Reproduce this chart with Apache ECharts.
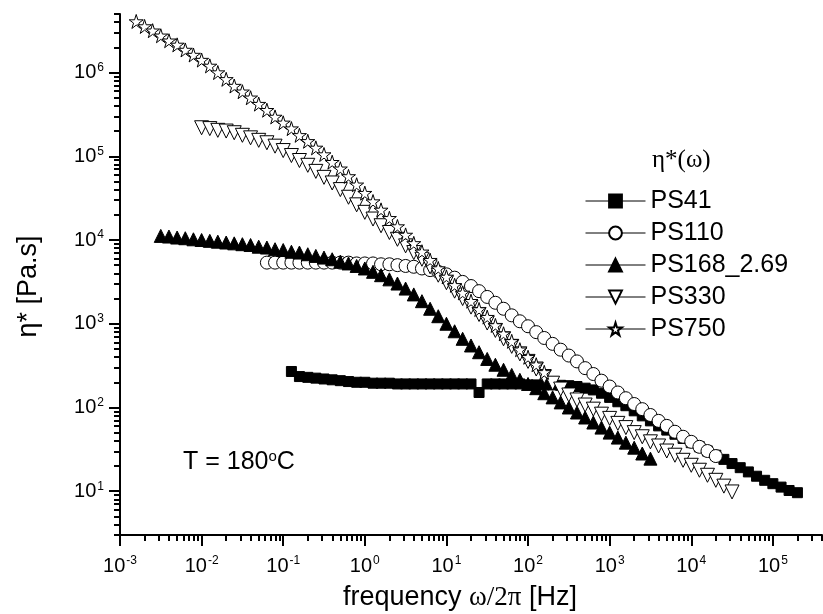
<!DOCTYPE html>
<html><head><meta charset="utf-8">
<script src="https://cdn.jsdelivr.net/npm/echarts@6/dist/echarts.min.js"></script>
<style>html,body{margin:0;padding:0;background:#fff}#c{width:823px;height:614px}</style>
</head><body><div id="c"></div>
<script>
// shared frequency grid [Hz] (10 points per decade)
const freq = [
  0.00158, 0.002, 0.00251, 0.00316, 0.00398, 0.00501, 0.00631, 0.00794,
  0.01, 0.0126, 0.0158, 0.02, 0.0251, 0.0316, 0.0398, 0.0501, 0.0631, 0.0794,
  0.1, 0.126, 0.158, 0.2, 0.251, 0.316, 0.398, 0.501, 0.631, 0.794,
  1, 1.26, 1.58, 2, 2.51, 3.16, 3.98, 5.01, 6.31, 7.94,
  10, 12.6, 15.8, 20, 25.1, 31.6, 39.8, 50.1, 63.1, 79.4,
  100, 126, 158, 200, 251, 316, 398, 501, 631, 794,
  1000, 1260, 1580, 2000, 2510, 3160, 3980, 5010, 6310, 7940,
  10000, 12600, 15800, 20000, 25100, 31600, 39800, 50100, 63100, 79400,
  100000, 126000, 158000, 200000
];
const seriesNames = ['PS41', 'PS110', 'PS168_2.69', 'PS330', 'PS750'];

const ps41Start = 19;
const ps41Eta = [269, 234, 229, 224, 219, 214, 209, 204, 200, 200,
  195, 195, 195, 191, 191, 191, 191, 191, 191, 191,
  191, 191, 191, 151, 191, 191, 191, 191, 191, 186,
  186, 186, 186, 184, 182, 178, 170, 162, 148, 132,
  117, 105, 91.2, 79.4, 69.2, 60.3, 53.7, 47.9, 42.7, 38.0,
  33.9, 30.2, 26.9, 24.0, 21.4, 19.1, 17.0, 15.1, 13.5, 12.3,
  11.2, 10.2, 9.6];

const ps110Start = 16;
const ps110Eta = [5370, 5370, 5370, 5370, 5370, 5370, 5370, 5370, 5370, 5370,
  5370, 5250, 5250, 5250, 5130, 5130, 5010, 4900, 4790, 4570,
  4370, 4170, 3890, 3550, 3160, 2820, 2450, 2090, 1780, 1510,
  1260, 1070, 933, 794, 676, 575, 490, 417, 355, 295,
  251, 209, 178, 151, 129, 110, 95.5, 81.3, 69.2, 60.3,
  51.3, 44.7, 38.9, 33.9, 30.2, 26.3];

const ps168Start = 3;
const ps168Eta = [11200, 11000, 10700, 10500, 10200, 10000, 9770, 9550, 9330, 9120,
  8910, 8710, 8320, 8130, 7760, 7590, 7240, 7080, 6760, 6460,
  6170, 5890, 5500, 5250, 4900, 4570, 4170, 3800, 3390, 3020,
  2630, 2240, 1860, 1510, 1230, 1000, 813, 661, 550, 457,
  380, 324, 282, 245, 214, 191, 170, 148, 132, 115,
  100, 87.1, 75.9, 66.1, 57.5, 50.1, 43.7, 38.0, 33.1, 28.2,
  24.5];

const ps330Start = 8;
const ps330Eta = [219000, 214000, 204000, 200000, 191000, 178000, 166000, 155000, 145000, 132000,
  117000, 102000, 89000, 78000, 66000, 56000, 48000, 40000, 32400, 26300,
  21400, 17800, 14800, 12300, 10200, 8510, 7080, 5890, 4790, 3800,
  3090, 2450, 2000, 1580, 1290, 1020, 832, 661, 537, 437,
  355, 288, 234, 195, 166, 141, 123, 107, 95.5, 83.2,
  74.1, 64.6, 57.5, 50.1, 44.7, 38.9, 34.7, 30.2, 26.9, 23.4,
  20.4, 17.8, 15.5, 13.5, 11.5, 9.8];

const ps750Start = 0;
const ps750Eta = [4070000, 3550000, 3160000, 2750000, 2400000, 2140000, 1860000, 1620000, 1410000, 1200000,
  1000000, 830000, 690000, 590000, 500000, 420000, 355000, 295000, 251000, 214000,
  178000, 151000, 126000, 105000, 85000, 71000, 57500, 45700, 36300, 28800,
  22900, 18200, 14500, 11500, 9120, 7240, 5750, 4570, 3630, 2880,
  2340, 1860, 1480, 1200, 955, 759, 617, 490, 398, 324,
  263];

const xMajorTicks = [1e-3, 1e-2, 1e-1, 1, 1e1, 1e2, 1e3, 1e4, 1e5];
const yMajorTicks = [1e1, 1e2, 1e3, 1e4, 1e5, 1e6];
const xRange = [1e-3, 4e5];
const yRange = [3, 5e6];

function minorTicks(lo, hi) {
  const out = [];
  for (let e = Math.floor(Math.log10(lo)); e <= Math.ceil(Math.log10(hi)); e++) {
    for (let m = 2; m <= 9; m++) {
      const v = +(m * Math.pow(10, e)).toPrecision(6);
      if (v >= lo && v <= hi) out.push(v);
    }
  }
  return out;
}
const pairs = (start, arr) => arr.map((v, i) => [freq[start + i], v]);

const STAR = 'path://M50,0 L61.8,35.3 L100,35.3 L69.1,57.1 L80.9,92.7 L50,70.5 L19.1,92.7 L30.9,57.1 L0,35.3 L38.2,35.3 Z';
const DOWN_TRI = 'path://M0,0 L100,0 L50,90 Z';
const UP_TRI = 'path://M50,0 L100,90 L0,90 Z';

const supRich = {
  b: { fontSize: 20, fontFamily: 'Liberation Sans', color: '#000', lineHeight: 22 },
  s: { fontSize: 12, fontFamily: 'Liberation Sans', color: '#000', verticalAlign: 'top', lineHeight: 22, padding: [0, 0, 0, 1] }
};
const expLabel = v => '{b|10}{s|' + Math.round(Math.log10(v)) + '}';

const gridGeom = { left: 120, top: 14, width: 702, height: 521 };

function mkSeries(name, data, symbol, size, filled) {
  return {
    name, type: 'line', data, symbol, symbolSize: size,
    xAxisIndex: 0, yAxisIndex: 0,
    lineStyle: { opacity: 0 },
    itemStyle: filled ? { color: '#000', borderColor: '#000', borderWidth: 1 }
                      : { color: '#fff', borderColor: '#000', borderWidth: 1 },
    emphasis: { disabled: true },
    z: 2
  };
}

const chart = echarts.init(document.getElementById('c'), null, { renderer: 'canvas' });
chart.setOption({
  animation: false,
  backgroundColor: '#fff',
  grid: [
    Object.assign({ outerBoundsMode: 'none', containLabel: false }, gridGeom),
    Object.assign({ outerBoundsMode: 'none', containLabel: false }, gridGeom)
  ],
  xAxis: [
    {
      type: 'log', gridIndex: 0, min: xRange[0], max: xRange[1], logBase: 10,
      name: 'frequency {s|ω/2π} [Hz]', nameLocation: 'middle', nameGap: 49,
      nameTextStyle: { fontSize: 27, fontFamily: 'Liberation Sans', color: '#000', padding: [0, 22, 0, 0],
        rich: { s: { fontSize: 27, fontFamily: 'Liberation Serif', color: '#000' } } },
      axisLine: { show: true, lineStyle: { color: '#000', width: 2 } },
      axisTick: { show: true, inside: false, length: 11, customValues: xMajorTicks, lineStyle: { color: '#000', width: 2 } },
      axisLabel: { show: true, customValues: xMajorTicks, formatter: expLabel, rich: supRich, margin: 20 },
      splitLine: { show: false }, minorTick: { show: false }
    },
    {
      type: 'log', gridIndex: 1, min: xRange[0], max: xRange[1], logBase: 10,
      axisLine: { show: false },
      axisTick: { show: true, inside: false, length: 6, customValues: minorTicks(xRange[0], xRange[1]), lineStyle: { color: '#000', width: 2 } },
      axisLabel: { show: false }, splitLine: { show: false }
    }
  ],
  yAxis: [
    {
      type: 'log', gridIndex: 0, min: yRange[0], max: yRange[1], logBase: 10,
      name: 'η* [Pa.s]', nameLocation: 'middle', nameGap: 78,
      nameTextStyle: { fontSize: 27, fontFamily: 'Liberation Sans', color: '#000', padding: [0, 24, 0, 0] },
      axisLine: { show: true, lineStyle: { color: '#000', width: 2 } },
      axisTick: { show: true, inside: false, length: 11, customValues: yMajorTicks, lineStyle: { color: '#000', width: 2 } },
      axisLabel: { show: true, customValues: yMajorTicks, formatter: expLabel, rich: supRich, margin: 16 },
      splitLine: { show: false }, minorTick: { show: false }
    },
    {
      type: 'log', gridIndex: 1, min: yRange[0], max: yRange[1], logBase: 10,
      axisLine: { show: false },
      axisTick: { show: true, inside: false, length: 6, customValues: minorTicks(yRange[0], yRange[1]), lineStyle: { color: '#000', width: 2 } },
      axisLabel: { show: false }, splitLine: { show: false }
    }
  ],
  legend: {
    orient: 'vertical', left: 580, top: 183,
    itemWidth: 60, itemHeight: 16, itemGap: 6,
    data: seriesNames,
    textStyle: { fontSize: 25, fontFamily: 'Liberation Sans', color: '#000', lineHeight: 26 },
    lineStyle: { color: '#000', width: 1, opacity: 1 },
    selectedMode: false
  },
  graphic: [
    { type: 'text', left: 652, top: 148, style: { text: 'η*(ω)', font: '25px "Liberation Serif"', fill: '#000' } },
    { type: 'text', left: 183, top: 449, style: {
        text: 'T = 180{s|o}C', fill: '#000',
        rich: { s: { fontSize: 15, fontFamily: 'Liberation Sans', verticalAlign: 'top', lineHeight: 26 } },
        font: '25px "Liberation Sans"', lineHeight: 26 } }
  ],
  series: [
    mkSeries(seriesNames[0], pairs(ps41Start, ps41Eta), 'rect', 10, true),
    mkSeries(seriesNames[1], pairs(ps110Start, ps110Eta), 'circle', 13, false),
    mkSeries(seriesNames[2], pairs(ps168Start, ps168Eta), UP_TRI, 13, true),
    mkSeries(seriesNames[3], pairs(ps330Start, ps330Eta), DOWN_TRI, 14, false),
    mkSeries(seriesNames[4], pairs(ps750Start, ps750Eta), STAR, 14, false)
  ]
});
</script></body></html>
